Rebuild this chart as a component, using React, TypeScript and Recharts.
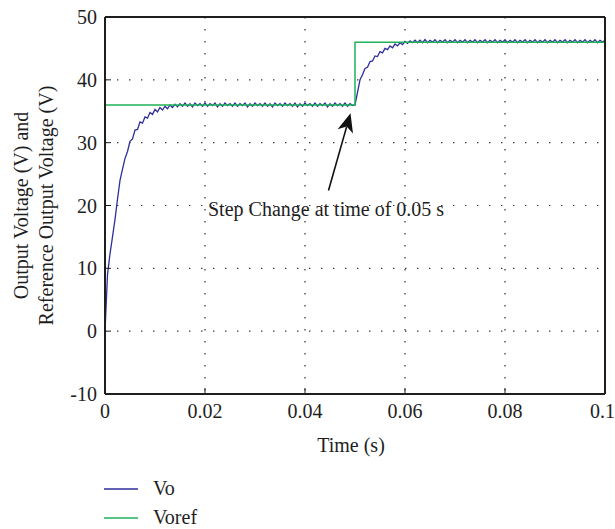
import React from "react";
import {
  CartesianGrid,
  Label,
  Legend,
  Line,
  LineChart,
  ReferenceDot,
  ReferenceLine,
  XAxis,
  YAxis,
} from "recharts";

const FONT = '"Liberation Serif", "DejaVu Serif", serif';

const SAMPLE_STEP = 0.0005;
const voValues = [
  0, 9.0, 12.3, 15.0, 17.8, 21.0, 24.0, 25.8, 27.5, 28.6,
  30.2, 30.6, 32.0, 32.1, 33.3, 33.1, 34.1, 33.9, 34.8, 34.5,
  35.3, 34.9, 35.6, 35.2, 35.8, 35.4, 36.0, 35.6, 36.1, 35.7,
  36.2, 35.8, 36.3, 35.8, 36.2, 35.7, 36.3, 35.9, 36.2, 35.8,
  36.3, 35.8, 36.2, 35.9, 36.3, 35.7, 36.2, 35.8, 36.3, 35.9,
  36.2, 35.8, 36.3, 35.8, 36.2, 35.9, 36.3, 35.7, 36.2, 35.8,
  36.3, 35.9, 36.2, 35.8, 36.3, 35.8, 36.2, 35.7, 36.3, 35.9,
  36.2, 35.8, 36.3, 35.9, 36.2, 35.8, 36.3, 35.7, 36.2, 35.8,
  36.3, 35.9, 36.2, 35.8, 36.3, 35.8, 36.2, 35.9, 36.3, 35.7,
  36.2, 35.8, 36.3, 35.9, 36.2, 35.8, 36.3, 35.8, 36.2, 35.9,
  36.0, 38.0, 40.0, 40.8, 41.8, 42.0, 42.9, 43.0, 43.8, 43.7,
  44.5, 44.3, 45.0, 44.8, 45.4, 45.1, 45.7, 45.4, 45.9, 45.6,
  46.1, 45.8, 46.2, 45.9, 46.3, 45.9, 46.3, 45.9, 46.4, 45.9,
  46.3, 46.0, 46.4, 45.9, 46.3, 46.0, 46.4, 45.9, 46.3, 46.0,
  46.4, 45.9, 46.3, 46.0, 46.4, 45.9, 46.3, 46.0, 46.4, 45.9,
  46.3, 46.0, 46.4, 45.9, 46.3, 46.0, 46.4, 45.9, 46.3, 46.0,
  46.4, 45.9, 46.3, 46.0, 46.4, 45.9, 46.3, 46.0, 46.4, 45.9,
  46.3, 46.0, 46.4, 45.9, 46.3, 46.0, 46.4, 45.9, 46.3, 46.0,
  46.4, 45.9, 46.3, 46.0, 46.4, 45.9, 46.3, 46.0, 46.4, 45.9,
  46.3, 46.0, 46.4, 45.9, 46.3, 46.0, 46.4, 45.9, 46.3, 46.0,
  46.3,
];

const vorefTimes = [0, 0.05, 0.05, 0.1];
const vorefValues = [36, 36, 46, 46];

const xTicks = [0, 0.02, 0.04, 0.06, 0.08, 0.1];
const yTicks = [-10, 0, 10, 20, 30, 40, 50];

const arrowTail = { t: 0.0447, v: 22.4 };
const arrowTip = { t: 0.0491, v: 34.7 };
const noteAnchor = { t: 0.0206, v: 19.4 };
const noteText = "Step Change at time of 0.05 s";

const VO_COLOR = "#2e2e9c";
const VOREF_COLOR = "#1fb25a";
const INK = "#1e1e1e";

const voData = voValues.map((v, i) => ({ t: i * SAMPLE_STEP, v }));
const vorefData = vorefTimes.map((t, i) => ({ t, v: vorefValues[i] }));

const series = [
  { name: "Vo", color: VO_COLOR },
  { name: "Voref", color: VOREF_COLOR },
];

function ArrowShape(p: any) {
  const { x1, y1, x2, y2 } = p;
  const dx = x2 - x1;
  const dy = y2 - y1;
  const len = Math.hypot(dx, dy) || 1;
  const ux = dx / len;
  const uy = dy / len;
  const head = 19;
  const notch = 14;
  const half = 8;
  const bx = x2 - ux * head;
  const by = y2 - uy * head;
  const nx = x2 - ux * notch;
  const ny = y2 - uy * notch;
  const px = -uy;
  const py = ux;
  return (
    <g>
      <line x1={x1} y1={y1} x2={nx} y2={ny} stroke="#111" strokeWidth={1.6} />
      <polygon
        points={`${x2},${y2} ${bx + px * half},${by + py * half} ${nx},${ny} ${bx - px * half},${by - py * half}`}
        fill="#111"
      />
    </g>
  );
}

function NoteLabel({ viewBox }: any) {
  return (
    <text
      x={viewBox.x}
      y={viewBox.y}
      dy="0.32em"
      textAnchor="start"
      fontFamily={FONT}
      fontSize={20}
      fill={INK}
    >
      {noteText}
    </text>
  );
}

function YTitle({ viewBox }: any) {
  const cy = viewBox.y + viewBox.height / 2;
  return (
    <g transform={`translate(28, ${cy}) rotate(-90)`}>
      <text x={0} y={0} textAnchor="middle" fontFamily={FONT} fontSize={20} fill={INK}>
        Output Voltage (V) and
      </text>
      <text x={0} y={25} textAnchor="middle" fontFamily={FONT} fontSize={20} fill={INK}>
        Reference Output Voltage (V)
      </text>
    </g>
  );
}

function XTitle({ viewBox }: any) {
  return (
    <text
      x={viewBox.x + viewBox.width / 2 - 4}
      y={viewBox.y + 58}
      textAnchor="middle"
      fontFamily={FONT}
      fontSize={20}
      fill={INK}
    >
      Time (s)
    </text>
  );
}

function LegendBox() {
  return (
    <div style={{ fontFamily: FONT, fontSize: 20, color: INK }}>
      {series.map((s) => (
        <div key={s.name} style={{ display: "flex", alignItems: "center", height: 29 }}>
          <svg width={34} height={4} style={{ marginRight: 15 }}>
            <line x1={0} y1={2} x2={34} y2={2} stroke={s.color} strokeWidth={1.5} />
          </svg>
          <span>{s.name}</span>
        </div>
      ))}
    </div>
  );
}

export default function App() {
  const tickStyle = { fill: INK, fontSize: 20, fontFamily: FONT };
  const axisLine = { stroke: INK, strokeWidth: 2 };
  const tickLine = { stroke: INK, strokeWidth: 1 };

  return (
    <div style={{ position: "absolute", left: 0, top: 0, background: "#fff" }}>
      <LineChart
        width={615}
        height={529}
        margin={{ top: 16, right: 9, bottom: 134, left: 104 }}
      >
        <CartesianGrid
          stroke="#333"
          strokeWidth={1.2}
          strokeDasharray="1.4 10.6"
        />
        <XAxis
          dataKey="t"
          type="number"
          domain={[0, 0.1]}
          ticks={xTicks}
          allowDataOverflow
          height={1}
          tick={tickStyle}
          tickSize={-6}
          tickMargin={16}
          tickFormatter={(v: number) => String(v)}
          axisLine={axisLine}
          tickLine={tickLine}
        >
          <Label content={<XTitle />} />
        </XAxis>
        <XAxis
          xAxisId="top"
          orientation="top"
          type="number"
          domain={[0, 0.1]}
          ticks={xTicks}
          allowDataOverflow
          height={1}
          tick={false}
          tickSize={-6}
          axisLine={axisLine}
          tickLine={tickLine}
        />
        <YAxis
          type="number"
          domain={[-10, 50]}
          ticks={yTicks}
          allowDataOverflow
          width={1}
          tick={tickStyle}
          tickSize={-6}
          tickMargin={14}
          axisLine={axisLine}
          tickLine={tickLine}
        >
          <Label content={<YTitle />} />
        </YAxis>
        <YAxis
          yAxisId="right"
          orientation="right"
          type="number"
          domain={[-10, 50]}
          ticks={yTicks}
          allowDataOverflow
          width={1}
          tick={false}
          tickSize={-6}
          axisLine={axisLine}
          tickLine={tickLine}
        />
        <Line
          data={voData}
          dataKey="v"
          name="Vo"
          type="linear"
          stroke={VO_COLOR}
          strokeWidth={1.3}
          dot={false}
          isAnimationActive={false}
        />
        <Line
          data={vorefData}
          dataKey="v"
          name="Voref"
          type="linear"
          stroke={VOREF_COLOR}
          strokeWidth={1.5}
          dot={false}
          isAnimationActive={false}
        />
        <ReferenceLine
          segment={[
            { x: arrowTail.t, y: arrowTail.v },
            { x: arrowTip.t, y: arrowTip.v },
          ]}
          shape={(p: any) => <ArrowShape {...p} />}
        />
        <ReferenceDot
          x={noteAnchor.t}
          y={noteAnchor.v}
          r={0}
          fill="none"
          stroke="none"
          label={<NoteLabel />}
        />
        <Legend
          layout="vertical"
          align="center"
          verticalAlign="middle"
          wrapperStyle={{ left: 104, top: 474, width: 200, height: 60 }}
          content={<LegendBox />}
        />
      </LineChart>
    </div>
  );
}
